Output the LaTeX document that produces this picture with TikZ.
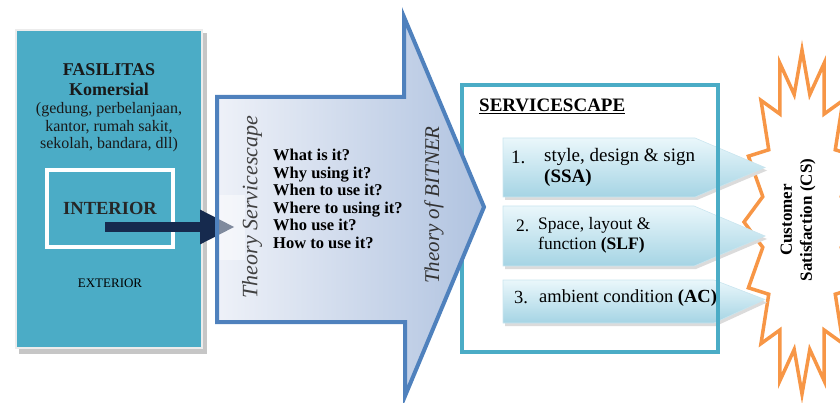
\documentclass[tikz,border=0pt]{standalone}
\usepackage{fontspec}
\setmainfont{Liberation Serif}
\usepackage{tikz}
\usetikzlibrary{arrows.meta}
\newcommand{\fsz}[2]{\fontsize{#1}{#2}\selectfont}
\newcommand{\bigarrowpath}{(217,97) -- (404,97) -- (404,17) -- (484,207) -- (405,396) -- (405,322) -- (217,322) -- cycle}
\definecolor{tealbox}{RGB}{75,172,198}
\definecolor{navyarrow}{RGB}{22,42,78}
\definecolor{bluearrow}{RGB}{79,129,189}
\definecolor{arrowlight}{RGB}{238,241,248}
\definecolor{arrowdark}{RGB}{176,195,224}
\definecolor{orangestar}{RGB}{247,150,70}
\definecolor{pentlight}{RGB}{234,247,251}
\definecolor{pentdark}{RGB}{165,212,228}
\tikzset{>=Triangle}

\begin{document}
\begin{tikzpicture}[x=1pt,y=-1pt,
		txt/.style={inner sep=0pt, align=center},
		pent/.style={top color=pentlight, bottom color=pentdark, draw=pentdark!60!white, line width=.6pt},
		pentshadow/.style={fill=black!14}]
	\useasboundingbox (0,0) rectangle (840,403);
	\clip (0,0) rectangle (840,403);

	% fasilitas komersial
	\fill[gray!45] (19,33) rectangle (207,354);
	\filldraw[fill=tealbox, draw=gray!15, line width=1.5pt] (16,30) rectangle (202,348);
	\node[txt, font=\fsz{18}{20}\bfseries, text=black!90] (fasilitas) at (109,80) {FASILITAS\\Komersial};
	\node[txt, font=\fsz{16}{17.5}, text=black!90] (jenis) at (109,127.5) {(gedung, perbelanjaan,\\kantor, rumah sakit,\\sekolah, bandara, dll)};
	\node[draw=white, line width=4pt, fill=tealbox, minimum width=126pt, minimum height=77pt, font=\fsz{18.5}{20}\bfseries, text=black!85] (interior) at (110,208.5) {INTERIOR};
	\node[txt, font=\fsz{13}{15}] (exterior) at (110,283) {EXTERIOR};

	% servicescape box
	\draw[tealbox, line width=3.5pt] (462,85) rectangle (718,352);

	% theory arrow
	\shade[left color=arrowlight, right color=arrowdark] \bigarrowpath;
	\coordinate (src) at (105,227);
	\coordinate (dst) at (235,227);
	\draw[navyarrow, line width=10pt, -{Triangle[length=35pt,width=32pt]}] (src) -- (dst);
	\begin{scope}
		\clip \bigarrowpath;
		\fill[white, opacity=.45] (210,195) rectangle (245,260);
	\end{scope}
	\draw[bluearrow, line width=4pt] \bigarrowpath;
	\node[txt, rotate=90, font=\fsz{22}{24}\itshape, text=black!75] (theoryscape) at (252,207) {Theory Servicescape};
	\node[txt, anchor=west, align=left, font=\fsz{16.5}{17.5}\bfseries] (questions) at (273,199) {What is it?\\Why using it?\\When to use it?\\Where to using it?\\Who use it?\\How to use it?};
	\node[txt, rotate=90, font=\fsz{21}{24}\itshape, text=black!80] (bitner) at (434,205) {Theory of BITNER};

	% customer satisfaction
	\filldraw[orangestar, fill=white, line width=3.5pt] (802,50)
		foreach \k in {0,...,14} { -- ({802+40*cos(101.25+\k*22.5)},{222-130*sin(101.25+\k*22.5)}) -- ({802+58*cos(112.5+\k*22.5)},{222-172*sin(112.5+\k*22.5)}) }
		-- ({802+40*cos(438.75)},{222-130*sin(438.75)}) -- cycle;
	\node[txt, rotate=90, font=\fsz{17}{20}\bfseries] (cs) at (798,220) {Customer\\Satisfaction (CS)};

	% servicescape items
	\foreach \t/\b/\m/\s in {138/197/167.5/695, 206/266/236/694, 280/323/299.5/714} {
		\fill[pentshadow] (505,\t+3) -- (\s+2,\t+3) -- (767,\m+3) -- (\s+2,\b+3) -- (505,\b+3) -- cycle;
		\shadedraw[pent] (503,\t) -- (\s,\t) -- (765,\m) -- (\s,\b) -- (503,\b) -- cycle;
	}
	\draw[tealbox, line width=3.5pt] (718,85) -- (718,352);

	\node[txt, anchor=west, font=\fsz{19}{21}] (num1) at (511,157) {1.};
	\node[txt, anchor=west, align=left, font=\fsz{19}{21}] (item1) at (544,167.5) {style, design \& sign\\\textbf{(SSA)}};
	\node[txt, anchor=west, font=\fsz{17.5}{19.5}] (num2) at (516,226) {2.};
	\node[txt, anchor=west, align=left, font=\fsz{17.5}{19.5}] (item2) at (538,235.5) {Space, layout \&\\function \textbf{(SLF)}};
	\node[txt, anchor=west, font=\fsz{18.5}{20}] (num3) at (514,298) {3.};
	\node[txt, anchor=west, font=\fsz{18.5}{20}] (item3) at (539,298) {ambient condition \textbf{(AC)}};
	\node[txt, anchor=base west, font=\fsz{19}{21}\bfseries] (scape) at (479,112) {\underline{SERVICESCAPE}};
\end{tikzpicture}
\end{document}
